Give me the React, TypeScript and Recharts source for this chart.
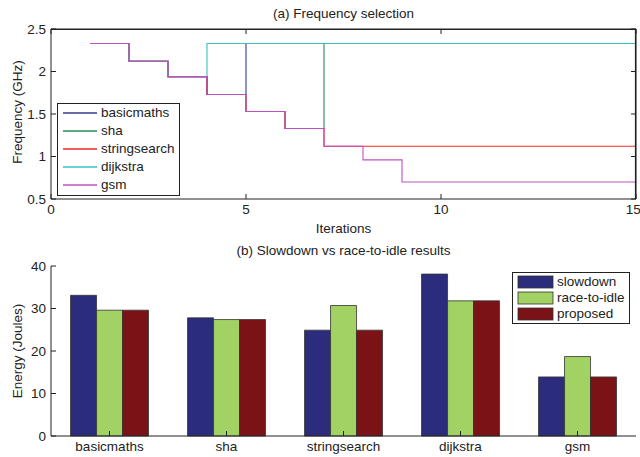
import React from 'react';
import { LineChart, Line, BarChart, Bar, XAxis, YAxis, Legend } from 'recharts';

// (a) frequency per iteration (GHz)
const iterations = [1, 2, 3, 4, 5, 6, 7, 8, 9, 10, 11, 12, 13, 14, 15];
const basicmaths = [2.33, 2.12, 1.94, 1.73, 2.33, 2.33, 2.33, 2.33, 2.33, 2.33, 2.33, 2.33, 2.33, 2.33, 2.33];
const sha = [2.33, 2.12, 1.94, 1.73, 1.53, 1.33, 2.33, 2.33, 2.33, 2.33, 2.33, 2.33, 2.33, 2.33, 2.33];
const stringsearch = [2.33, 2.12, 1.94, 1.73, 1.53, 1.33, 1.12, 1.12, 1.12, 1.12, 1.12, 1.12, 1.12, 1.12, 1.12];
const dijkstra = [2.33, 2.12, 1.94, 2.33, 2.33, 2.33, 2.33, 2.33, 2.33, 2.33, 2.33, 2.33, 2.33, 2.33, 2.33];
const gsm = [2.33, 2.12, 1.94, 1.73, 1.53, 1.33, 1.12, 0.96, 0.7, 0.7, 0.7, 0.7, 0.7, 0.7, 0.7];
const freqTicks = [0.5, 1, 1.5, 2, 2.5];
const iterTicks = [0, 5, 10, 15];

// (b) energy (Joules)
const benchmarks = ['basicmaths', 'sha', 'stringsearch', 'dijkstra', 'gsm'];
const slowdown = [33.1, 27.8, 24.9, 38.1, 13.9];
const raceToIdle = [29.6, 27.4, 30.7, 31.8, 18.7];
const proposed = [29.6, 27.4, 24.9, 31.8, 13.9];
const energyTicks = [0, 10, 20, 30, 40];

const freqData = iterations.map((x, i) => ({
  x,
  basicmaths: basicmaths[i],
  sha: sha[i],
  stringsearch: stringsearch[i],
  dijkstra: dijkstra[i],
  gsm: gsm[i],
}));

const energyData = benchmarks.map((name, i) => ({
  name,
  slowdown: slowdown[i],
  race: raceToIdle[i],
  proposed: proposed[i],
}));

const lineSeries = [
  { key: 'basicmaths', color: '#383c8c' },
  { key: 'sha', color: '#2a8a5a' },
  { key: 'stringsearch', color: '#f02828' },
  { key: 'dijkstra', color: '#38c0c0' },
  { key: 'gsm', color: '#c050c0' },
];

const barSeries = [
  { key: 'slowdown', name: 'slowdown', color: '#2b2c7c' },
  { key: 'race', name: 'race-to-idle', color: '#a2d164' },
  { key: 'proposed', name: 'proposed', color: '#7b1316' },
];

const FONT = '"Liberation Sans", Arial, sans-serif';
const INK = '#222';
const tickStyle = { fill: INK, fontSize: 13.5 };
// mirrored box axes: keep the tick marks, drop the labels
const noLabel = () => <g />;

const VerticalTitle = ({ viewBox, value, shift = 0 }: any) => {
  const cx = viewBox.x + 17;
  const cy = viewBox.y + viewBox.height / 2 + shift;
  return (
    <text x={cx} y={cy} transform={`rotate(-90, ${cx}, ${cy})`} textAnchor="middle"
      dominantBaseline="central" fontSize={13.5} fill={INK} fontFamily={FONT}>
      {value}
    </text>
  );
};

function LineLegend({ payload }: any) {
  const items = [...(payload || [])]
    .filter(p => lineSeries.some(s => s.key === p.value))
    .sort((a, b) => lineSeries.findIndex(s => s.key === a.value) - lineSeries.findIndex(s => s.key === b.value));
  return (
    <div style={{ width: 123, height: 93, boxSizing: 'border-box', border: `1px solid ${INK}`, background: '#fff' }}>
      {items.map(it => (
        <div key={it.value} style={{ display: 'flex', alignItems: 'center', height: 18 }}>
          <svg width={43} height={18}>
            <line x1={5} x2={39} y1={9} y2={9} stroke={it.color} strokeWidth={1.3} />
          </svg>
          <span style={{ fontSize: 13.5, color: INK, lineHeight: '18px' }}>{it.value}</span>
        </div>
      ))}
    </div>
  );
}

function BarLegend({ payload }: any) {
  const items = [...(payload || [])].sort(
    (a, b) => barSeries.findIndex(s => s.name === a.value) - barSeries.findIndex(s => s.name === b.value)
  );
  return (
    <div style={{ width: 118, height: 52, boxSizing: 'border-box', border: `1px solid ${INK}`, background: '#fff', paddingTop: 1 }}>
      {items.map(it => (
        <div key={it.value} style={{ display: 'flex', alignItems: 'center', height: 16 }}>
          <svg width={44} height={16}>
            <rect x={5} y={2} width={35} height={12} fill={it.color} stroke="#333" strokeWidth={0.8} />
          </svg>
          <span style={{ fontSize: 13.5, color: INK, lineHeight: '16px' }}>{it.value}</span>
        </div>
      ))}
    </div>
  );
}

export default function App() {
  return (
    <div style={{ position: 'absolute', left: 0, top: 0, width: 640, height: 457, background: '#fff', fontFamily: FONT }}>
      <div style={{ position: 'absolute', left: 51, width: 585, top: 6, textAlign: 'center', fontSize: 13.5, lineHeight: '16px', color: INK }}>
        (a) Frequency selection
      </div>
      <div style={{ position: 'absolute', left: 0, top: 0 }}>
        <LineChart width={640} height={240} data={freqData} margin={{ top: 28, right: 3, bottom: 0, left: 0 }}>
          <XAxis xAxisId="b" type="number" dataKey="x" domain={[0, 15]} ticks={iterTicks} allowDataOverflow
            height={41} tickSize={-5} tickMargin={10} tick={tickStyle} stroke={INK}
            label={{ value: 'Iterations', position: 'insideBottom', offset: 7, fill: INK, fontSize: 13.5 }} />
          <XAxis xAxisId="t" orientation="top" type="number" dataKey="x" domain={[0, 15]} ticks={iterTicks}
            allowDataOverflow height={1} tickSize={-5} tick={noLabel} stroke={INK} />
          <YAxis yAxisId="l" type="number" domain={[0.5, 2.5]} ticks={freqTicks} allowDataOverflow width={51}
            tickSize={-5} tickMargin={10} tick={tickStyle} stroke={INK}
            label={<VerticalTitle value="Frequency (GHz)" shift={-2} />} />
          <YAxis yAxisId="r" orientation="right" type="number" domain={[0.5, 2.5]} ticks={freqTicks}
            allowDataOverflow width={1} tickSize={-5} tick={noLabel} stroke={INK} />
          <Line xAxisId="t" yAxisId="r" dataKey="gsm" name="frame" stroke="none" dot={false}
            legendType="none" isAnimationActive={false} />
          {lineSeries.map(s => (
            <Line key={s.key} xAxisId="b" yAxisId="l" type="stepAfter" dataKey={s.key} name={s.key}
              stroke={s.color} strokeWidth={1.1} dot={false} isAnimationActive={false} />
          ))}
          <Legend content={<LineLegend />} layout="vertical" align="center" verticalAlign="middle"
            wrapperStyle={{ left: 57, top: 103, width: 123 }} />
        </LineChart>
      </div>
      {/* top/right edges of the (a) plot box, drawn above the chart */}
      <svg width={640} height={240} style={{ position: 'absolute', left: 0, top: 0, zIndex: 10, pointerEvents: 'none' }}>
        <polyline points="51,29.5 635.5,29.5 635.5,199" fill="none" stroke={INK} strokeWidth={1.2} />
      </svg>

      <div style={{ position: 'absolute', left: 51, width: 585, top: 243, textAlign: 'center', fontSize: 13.5, lineHeight: '16px', color: INK }}>
        (b) Slowdown vs race-to-idle results
      </div>
      <div style={{ position: 'absolute', left: 0, top: 240 }}>
        <BarChart width={640} height={217} data={energyData} margin={{ top: 26, right: 4, bottom: 0, left: 0 }}
          barCategoryGap="16.7%" barGap={0}>
          <XAxis xAxisId="b" dataKey="name" height={21} tickSize={-5} tickMargin={10} tick={tickStyle} stroke={INK} />
          <XAxis xAxisId="t" orientation="top" dataKey="name" height={0} tickSize={-5} tick={noLabel} stroke={INK} />
          <YAxis yAxisId="l" type="number" domain={[0, 40]} ticks={energyTicks} width={51}
            tickSize={-5} tickMargin={10} tick={tickStyle} stroke={INK}
            label={<VerticalTitle value="Energy (Joules)" />} />
          <YAxis yAxisId="r" orientation="right" type="number" domain={[0, 40]} ticks={energyTicks}
            width={0} tickSize={-5} tick={noLabel} stroke={INK} />
          {barSeries.map(s => (
            <Bar key={s.key} xAxisId="b" yAxisId="l" dataKey={s.key} name={s.name} fill={s.color}
              stroke="#333" strokeWidth={0.8} isAnimationActive={false} />
          ))}
          <Legend content={<BarLegend />} layout="vertical" align="center" verticalAlign="middle"
            wrapperStyle={{ left: 512, top: 32, width: 118 }} />
        </BarChart>
      </div>
    </div>
  );
}
